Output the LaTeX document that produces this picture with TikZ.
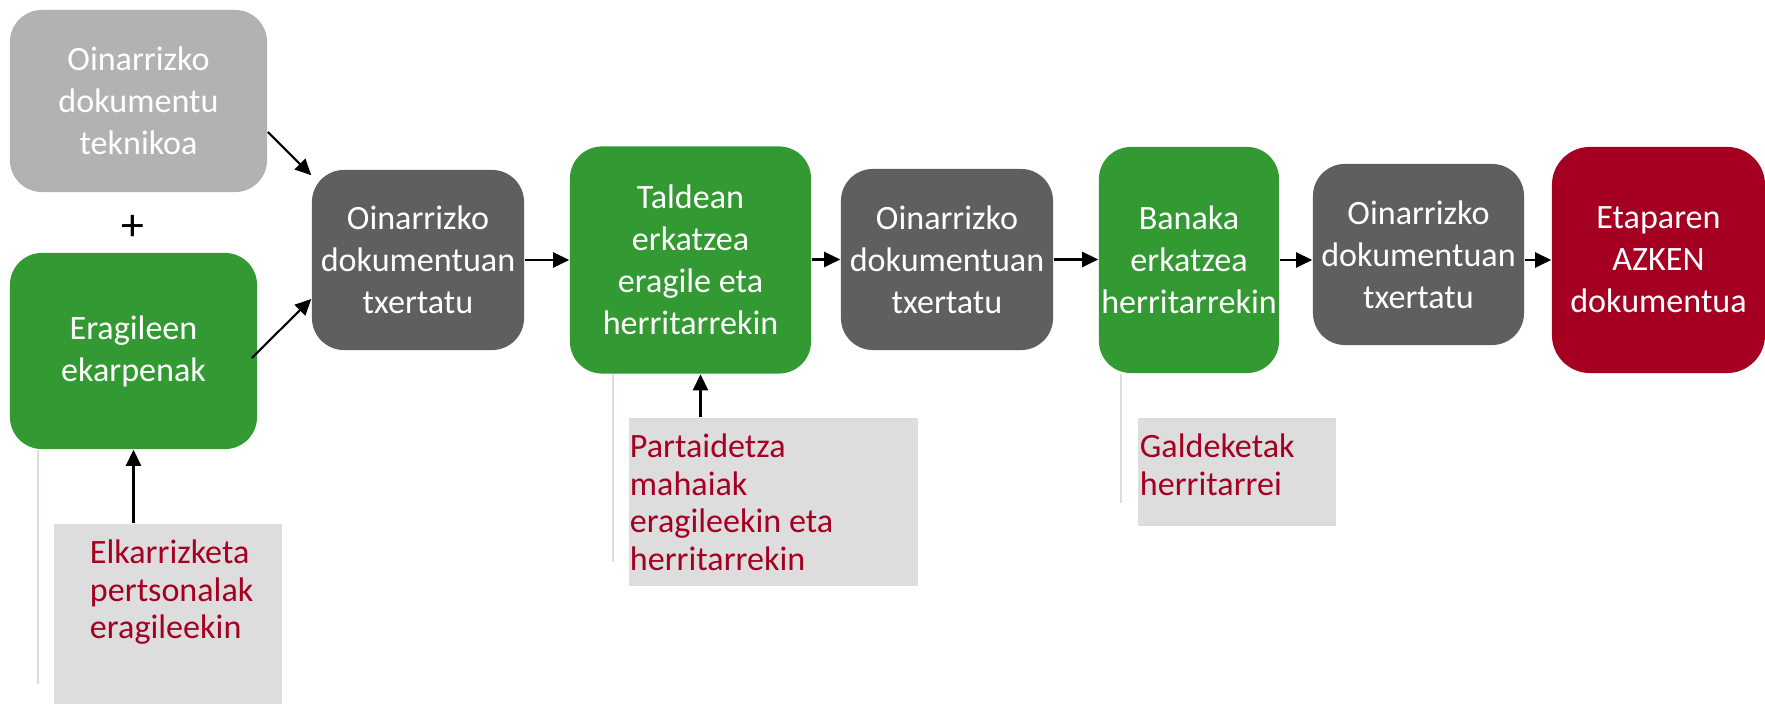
\documentclass[tikz,border=0pt]{standalone}
\usepackage{fontspec}
\setmainfont{Carlito}
\usepackage{tikz}
\usetikzlibrary{arrows.meta}
\definecolor{lightgrey}{RGB}{178,178,178}
\definecolor{darkgrey}{RGB}{95,95,95}
\definecolor{leafgreen}{RGB}{51,153,51}
\definecolor{wine}{RGB}{165,0,33}
\definecolor{paper}{RGB}{221,221,221}
\definecolor{rulebeige}{RGB}{226,221,211}
\tikzset{
  font={\fontsize{9.7pt}{11.95pt}\selectfont}}

\begin{document}
\begin{tikzpicture}[x=0.01cm,y=-0.01cm]
\tikzstyle{every node}+=[inner sep=0pt]
\tikzstyle{stage}=[rounded corners=0.32cm,text=white,align=center]
\tikzstyle{note}=[fill=paper]
\tikzstyle{notetext}=[text=wine,align=left,anchor=north west,font={\fontsize{9.7pt}{10.67pt}\selectfont}]
\tikzstyle{flow}=[-{Triangle[length=0.16cm,width=0.15cm]},line width=0.6pt]
\tikzstyle{guide}=[rulebeige,line width=0.65pt]
\useasboundingbox (0,0) rectangle (1765,704);
\node (teknikoa) at (138.5,101) [stage,fill=lightgrey,minimum width=2.57cm,minimum height=1.82cm] {Oinarrizko\\dokumentu\\teknikoa};
\node (plus) at (133,228) [font={\fontsize{13pt}{13pt}\selectfont}] {+};
\node (ekarp) at (133.5,351) [stage,fill=leafgreen,minimum width=2.47cm,minimum height=1.96cm] {Eragileen\\ekarpenak};
\node (elkar) at (168,614) [note,minimum width=2.28cm,minimum height=1.8cm] {};
\node (elkartxt) [notetext] at ([xshift=0.36cm,yshift=-0.16cm]elkar.north west) {Elkarrizketa\\pertsonalak\\eragileekin};
\node (txertatu1) at (418,260) [stage,fill=darkgrey,minimum width=2.12cm,minimum height=1.8cm] {Oinarrizko\\dokumentuan\\txertatu};
\node (taldean) at (690.5,260) [stage,fill=leafgreen,minimum width=2.41cm,minimum height=2.27cm] {Taldean\\erkatzea\\eragile eta\\herritarrekin};
\node (partaid) at (773.5,502) [note,minimum width=2.89cm,minimum height=1.68cm] {};
\node (partaidtxt) [notetext] at ([xshift=0.01cm,yshift=-0.16cm]partaid.north west) {Partaidetza\\mahaiak\\eragileekin eta\\herritarrekin};
\node (txertatu2) at (947,259.5) [stage,fill=darkgrey,minimum width=2.12cm,minimum height=1.81cm] {Oinarrizko\\dokumentuan\\txertatu};
\node (banaka) at (1189,260) [stage,fill=leafgreen,minimum width=1.8cm,minimum height=2.26cm] {Banaka\\erkatzea\\herritarrekin};
\node (galde) at (1237,472) [note,minimum width=1.98cm,minimum height=1.08cm] {};
\node (galdetxt) [notetext] at ([xshift=0.02cm,yshift=-0.16cm]galde.north west) {Galdeketak\\herritarrei};
\node (txertatu3) at (1418.5,254.5) [stage,fill=darkgrey,minimum width=2.11cm,minimum height=1.81cm] {Oinarrizko\\dokumentuan\\txertatu};
\node (azken) at (1658.5,260) [stage,rounded corners=0.38cm,fill=wine,minimum width=2.13cm,minimum height=2.26cm] {Etaparen\\AZKEN\\dokumentua};
\draw [guide] ([xshift=0.29cm]ekarp.south west) -- ++(0,234);
\draw [guide] ([xshift=0.44cm]taldean.south west) -- ++(0,188);
\draw [guide] ([xshift=0.23cm]banaka.south west) -- ++(0,129);
\draw [flow] ([yshift=-0.31cm]teknikoa.east) -- ([yshift=-0.06cm]txertatu1.north west);
\draw [flow] ([xshift=-0.06cm,yshift=-0.07cm]ekarp.east) -- ([yshift=-0.39cm]txertatu1.west);
\draw [flow] (ekarp.south |- elkar.north) -- (ekarp.south);
\draw [flow] (txertatu1.east) -- (taldean.west);
\draw [flow] ([xshift=0.1cm]taldean.south |- partaid.north) -- ([xshift=0.1cm]taldean.south);
\draw [flow] (taldean.east |- txertatu2.west) -- (txertatu2.west);
\draw [flow] (txertatu2.east) -- (banaka.west |- txertatu2.east);
\draw [flow] (banaka.east) -- (txertatu3.west |- banaka.east);
\draw [flow] (txertatu3.east |- azken.west) -- (azken.west);
\end{tikzpicture}
\end{document}
